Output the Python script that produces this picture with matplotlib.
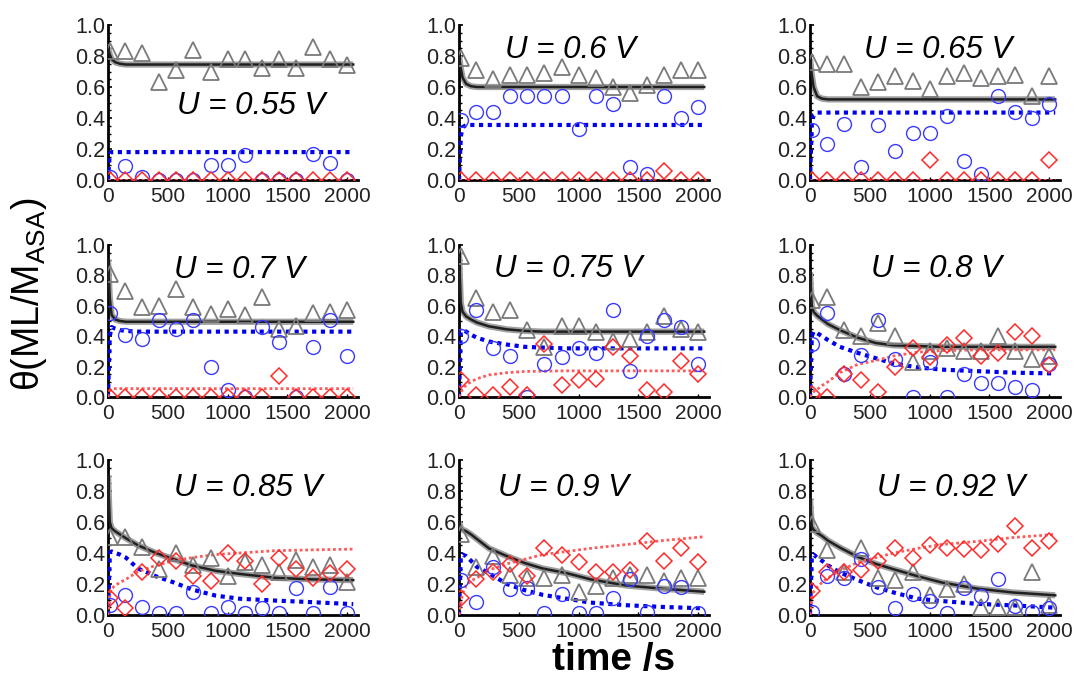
import matplotlib.pyplot as plt
from matplotlib.ticker import MultipleLocator

plt.rcParams['font.family'] = ['Liberation Sans', 'DejaVu Sans']
plt.rcParams['mathtext.fontset'] = 'custom'
plt.rcParams['mathtext.rm'] = 'Liberation Sans'

potentials = ['0.55', '0.6', '0.65', '0.7', '0.75', '0.8', '0.85', '0.9', '0.92']

# sampling times of the measured coverages (s)
time = [15, 143, 286, 429, 571, 714, 857, 1000, 1143, 1286, 1429, 1571, 1714, 1857, 2000]

# measured coverages, one row per potential
cov_tri = [
    [0.83, 0.83, 0.82, 0.63, 0.71, 0.84, 0.70, 0.78, 0.78, 0.72, 0.78, 0.72, 0.86, 0.78, 0.74],
    [0.785, 0.71, 0.65, 0.68, 0.68, 0.69, 0.73, 0.68, 0.66, 0.60, 0.56, 0.61, 0.68, 0.71, 0.71],
    [0.76, 0.75, 0.75, 0.60, 0.63, 0.67, 0.64, 0.585, 0.67, 0.69, 0.66, 0.67, 0.68, 0.54, 0.67],
    [0.81, 0.70, 0.59, 0.60, 0.71, 0.59, 0.545, 0.58, 0.54, 0.66, 0.45, 0.47, 0.55, 0.56, 0.57],
    [0.93, 0.65, 0.56, 0.575, 0.44, 0.33, 0.47, 0.47, 0.43, 0.37, 0.38, 0.43, 0.53, 0.45, 0.43],
    [0.64, 0.66, 0.44, 0.40, 0.49, 0.40, 0.23, 0.30, 0.32, 0.30, 0.30, 0.40, 0.30, 0.25, 0.27],
    [0.505, 0.505, 0.44, 0.30, 0.40, 0.32, 0.365, 0.25, 0.34, 0.32, 0.28, 0.355, 0.31, 0.32, 0.215],
    [0.52, 0.31, 0.38, 0.26, 0.24, 0.24, 0.26, 0.15, 0.19, 0.24, 0.26, 0.26, 0.22, 0.24, 0.24],
    [0.59, 0.42, 0.28, 0.43, 0.24, 0.225, 0.28, 0.13, 0.17, 0.20, 0.054, 0.054, 0.054, 0.28, 0.065],
]
cov_circ = [
    [0.02, 0.09, 0.02, 0.0, 0.0, 0.0, 0.10, 0.10, 0.16, 0.0, 0.0, 0.0, 0.17, 0.11, 0.0],
    [0.39, 0.44, 0.44, 0.54, 0.54, 0.54, 0.54, 0.33, 0.54, 0.49, 0.086, 0.04, 0.54, 0.40, 0.47],
    [0.32, 0.23, 0.36, 0.086, 0.355, 0.19, 0.305, 0.305, 0.41, 0.125, 0.04, 0.54, 0.44, 0.40, 0.49],
    [0.55, 0.41, 0.38, 0.505, 0.45, 0.505, 0.20, 0.044, 0.0, 0.46, 0.36, 0.0, 0.33, 0.505, 0.27],
    [0.40, 0.57, 0.32, 0.27, 0.0, 0.22, 0.26, 0.32, 0.29, 0.575, 0.17, 0.40, 0.505, 0.46, 0.22],
    [0.35, 0.55, 0.15, 0.275, 0.505, 0.25, 0.0, 0.23, 0.0, 0.15, 0.09, 0.09, 0.066, 0.044, 0.215],
    [0.065, 0.13, 0.054, 0.01, 0.01, 0.15, 0.01, 0.054, 0.01, 0.047, 0.01, 0.176, 0.01, 0.18, 0.01],
    [0.225, 0.086, 0.31, 0.17, 0.176, 0.01, 0.133, 0.01, 0.01, 0.11, 0.23, 0.02, 0.19, 0.18, 0.01],
    [0.02, 0.25, 0.24, 0.36, 0.18, 0.043, 0.133, 0.09, 0.01, 0.176, 0.12, 0.23, 0.06, 0.02, 0.047],
]
cov_diam = [
    [0.0] * 15,
    [0.0, 0.0, 0.0, 0.0, 0.0, 0.0, 0.0, 0.0, 0.0, 0.0, 0.0, 0.0, 0.06, 0.0, 0.0],
    [0.0, 0.0, 0.0, 0.0, 0.0, 0.0, 0.0, 0.13, 0.0, 0.0, 0.0, 0.0, 0.0, 0.0, 0.13],
    [0.0, 0.0, 0.0, 0.0, 0.0, 0.0, 0.0, 0.0, 0.0, 0.0, 0.14, 0.0, 0.0, 0.0, 0.0],
    [0.115, 0.01, 0.01, 0.066, 0.01, 0.35, 0.077, 0.11, 0.12, 0.33, 0.27, 0.048, 0.033, 0.24, 0.154],
    [0.02, 0.0, 0.15, 0.115, 0.033, 0.20, 0.32, 0.26, 0.34, 0.39, 0.27, 0.29, 0.43, 0.40, 0.21],
    [0.11, 0.043, 0.275, 0.37, 0.35, 0.25, 0.22, 0.40, 0.35, 0.20, 0.37, 0.30, 0.24, 0.27, 0.30],
    [0.11, 0.23, 0.28, 0.33, 0.25, 0.43, 0.39, 0.34, 0.28, 0.28, 0.29, 0.48, 0.35, 0.43, 0.34],
    [0.155, 0.28, 0.28, 0.29, 0.35, 0.43, 0.37, 0.45, 0.435, 0.425, 0.42, 0.455, 0.575, 0.435, 0.48],
]

# model curves, sampled on a common time grid
fit_time = [0, 15, 30, 60, 100, 150, 250, 400, 550, 700, 900, 1100, 1400, 1700, 2050]
fit_total = [
    [0.85, 0.81, 0.78, 0.76, 0.75, 0.745, 0.745, 0.745, 0.745, 0.745, 0.745, 0.745, 0.745, 0.745, 0.745],
    [0.80, 0.72, 0.66, 0.62, 0.605, 0.60, 0.60, 0.60, 0.60, 0.60, 0.60, 0.60, 0.60, 0.60, 0.60],
    [0.78, 0.68, 0.60, 0.54, 0.525, 0.52, 0.52, 0.52, 0.52, 0.52, 0.52, 0.52, 0.52, 0.52, 0.52],
    [0.90, 0.65, 0.54, 0.51, 0.50, 0.495, 0.495, 0.495, 0.495, 0.495, 0.495, 0.495, 0.495, 0.495, 0.495],
    [0.95, 0.62, 0.56, 0.53, 0.51, 0.49, 0.465, 0.445, 0.435, 0.43, 0.43, 0.43, 0.43, 0.43, 0.43],
    [0.82, 0.60, 0.56, 0.535, 0.51, 0.48, 0.44, 0.39, 0.355, 0.34, 0.335, 0.33, 0.33, 0.33, 0.33],
    [0.90, 0.60, 0.56, 0.54, 0.52, 0.495, 0.45, 0.40, 0.36, 0.32, 0.285, 0.265, 0.24, 0.23, 0.225],
    [0.60, 0.56, 0.55, 0.54, 0.52, 0.49, 0.43, 0.38, 0.335, 0.30, 0.27, 0.23, 0.19, 0.17, 0.15],
    [0.75, 0.57, 0.55, 0.53, 0.51, 0.48, 0.435, 0.375, 0.33, 0.295, 0.25, 0.21, 0.17, 0.145, 0.127],
]
fit_blue = [
    [0.0, 0.17, 0.18, 0.18, 0.18, 0.18, 0.18, 0.18, 0.18, 0.18, 0.18, 0.18, 0.18, 0.18, 0.18],
    [0.0, 0.28, 0.34, 0.355, 0.355, 0.355, 0.355, 0.355, 0.355, 0.355, 0.355, 0.355, 0.355, 0.355, 0.355],
    [0.0, 0.36, 0.42, 0.435, 0.435, 0.435, 0.435, 0.435, 0.435, 0.435, 0.435, 0.435, 0.435, 0.435, 0.435],
    [0.0, 0.40, 0.46, 0.45, 0.44, 0.435, 0.43, 0.43, 0.43, 0.43, 0.43, 0.43, 0.43, 0.43, 0.43],
    [0.0, 0.43, 0.44, 0.43, 0.41, 0.39, 0.365, 0.345, 0.33, 0.325, 0.32, 0.32, 0.32, 0.32, 0.32],
    [0.0, 0.40, 0.43, 0.42, 0.40, 0.375, 0.33, 0.29, 0.255, 0.22, 0.195, 0.18, 0.17, 0.16, 0.155],
    [0.0, 0.40, 0.41, 0.40, 0.39, 0.37, 0.30, 0.25, 0.21, 0.165, 0.125, 0.105, 0.093, 0.083, 0.07],
    [0.0, 0.38, 0.39, 0.38, 0.35, 0.31, 0.27, 0.20, 0.16, 0.13, 0.105, 0.08, 0.063, 0.052, 0.043],
    [0.0, 0.38, 0.39, 0.37, 0.35, 0.32, 0.275, 0.225, 0.18, 0.145, 0.105, 0.09, 0.072, 0.062, 0.047],
]
fit_red = [
    [0.0] * 15,
    [0.0] * 15,
    [0.0] * 15,
    [0.0, 0.04, 0.05, 0.055, 0.055, 0.055, 0.055, 0.055, 0.055, 0.055, 0.055, 0.055, 0.055, 0.055, 0.055],
    [0.0, 0.03, 0.05, 0.08, 0.10, 0.12, 0.145, 0.16, 0.168, 0.17, 0.172, 0.172, 0.172, 0.172, 0.172],
    [0.0, 0.02, 0.035, 0.05, 0.075, 0.10, 0.16, 0.215, 0.24, 0.27, 0.295, 0.305, 0.31, 0.31, 0.31],
    [0.0, 0.14, 0.17, 0.19, 0.21, 0.23, 0.28, 0.32, 0.35, 0.37, 0.39, 0.40, 0.415, 0.42, 0.425],
    [0.0, 0.08, 0.14, 0.19, 0.22, 0.24, 0.29, 0.33, 0.36, 0.39, 0.41, 0.43, 0.455, 0.48, 0.505],
    [0.0, 0.10, 0.15, 0.18, 0.21, 0.24, 0.285, 0.34, 0.37, 0.40, 0.43, 0.455, 0.475, 0.50, 0.52],
]

# where each potential label sits, in data coordinates
label_xy = [(1200, 0.48), (930, 0.84), (1070, 0.84),
            (1100, 0.835), (910, 0.84), (1055, 0.84),
            (1170, 0.82), (870, 0.82), (1180, 0.82)]

W, H = 1075, 684
lefts = [108, 459, 810]
bottoms = [504, 287, 69]
heights = [155, 152, 155]

fig = plt.figure(figsize=(W / 100, H / 100), dpi=100)

for k, u in enumerate(potentials):
    r, c = divmod(k, 3)
    ax = fig.add_axes([lefts[c] / W, bottoms[r] / H, 250 / W, heights[r] / H])

    ax.plot(fit_time, fit_total[k], color='#a0a0a0', lw=4.5, solid_capstyle='butt', zorder=2)
    ax.plot(fit_time, fit_total[k], color='#202020', lw=1.8, zorder=3)
    ax.plot(fit_time, fit_blue[k], color='#0000ee', lw=3.0, linestyle=(0, (1, 1.1)), zorder=3)
    ax.plot(fit_time, fit_red[k], color='#ff5a5a', lw=2.0, linestyle=(0, (1, 1.0)), zorder=3)

    ax.plot(time, cov_tri[k], '^', ms=11, mfc='none', mec='#7a7a7a', mew=1.3, zorder=4)
    ax.plot(time, cov_circ[k], 'o', ms=10, mfc='none', mec='#3a3aff', mew=1.0, zorder=4)
    ax.plot(time, cov_diam[k], 'D', ms=8, mfc='none', mec='#ff2a2a', mew=1.1, zorder=4)

    ax.text(label_xy[k][0], label_xy[k][1], f'U = {u} V', fontsize=22.5, style='italic',
            ha='center', va='center', zorder=5)

    ax.set_xlim(0, 2090)
    ax.set_ylim(0, 1.0)
    ax.set_xticks([0, 500, 1000, 1500, 2000])
    ax.set_yticks([0.0, 0.2, 0.4, 0.6, 0.8, 1.0])
    ax.yaxis.set_minor_locator(MultipleLocator(0.05))
    ax.set_yticklabels(['0.0', '0.2', '0.4', '0.6', '0.8', '1.0'])
    for side in ('top', 'right'):
        ax.spines[side].set_visible(False)
    for side in ('left', 'bottom'):
        ax.spines[side].set_linewidth(2)
    ax.tick_params(axis='y', which='major', direction='in', length=3, width=1.2,
                   pad=2, labelsize=15.5, labelcolor='#222222')
    ax.tick_params(axis='y', which='minor', direction='in', length=2, width=1)
    ax.tick_params(axis='x', which='major', direction='in', length=2, width=1,
                   pad=5, labelsize=15, labelcolor='#222222')

fig.text(0.571, 0.035, 'time /s', fontsize=28, fontweight='bold', ha='center', va='center')
fig.text(0.027, 0.57, r'θ(ML/M$_\mathregular{ASA}$)', fontsize=27, rotation=90,
         ha='center', va='center')

fig.savefig('out.png', dpi=100)
